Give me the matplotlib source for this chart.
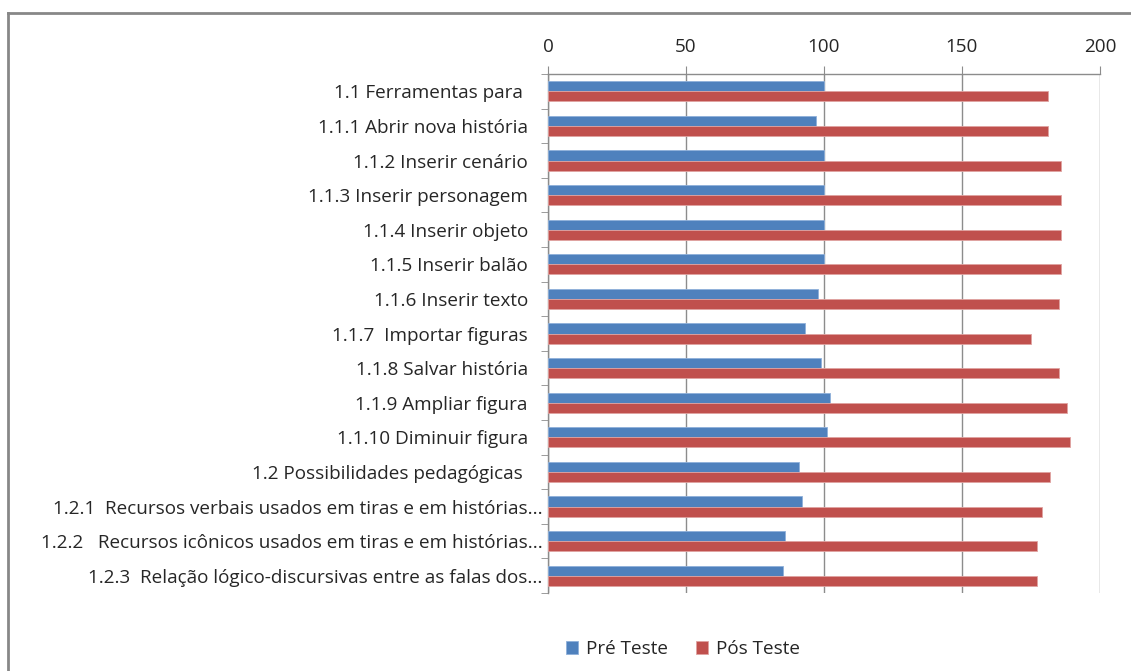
import matplotlib
matplotlib.use("Agg")
import matplotlib.pyplot as plt
from matplotlib.lines import Line2D
import numpy as np

categories = [
    "1.1 Ferramentas para ",
    "1.1.1 Abrir nova história",
    "1.1.2 Inserir cenário",
    "1.1.3 Inserir personagem",
    "1.1.4 Inserir objeto",
    "1.1.5 Inserir balão",
    "1.1.6 Inserir texto",
    "1.1.7  Importar figuras",
    "1.1.8 Salvar história",
    "1.1.9 Ampliar figura",
    "1.1.10 Diminuir figura",
    "1.2 Possibilidades pedagógicas ",
    "1.2.1  Recursos verbais usados em tiras e em histórias...",
    "1.2.2   Recursos icônicos usados em tiras e em histórias...",
    "1.2.3  Relação lógico-discursivas entre as falas dos...",
]
pre_teste = [100, 97, 100, 100, 100, 100, 98, 93, 99, 102, 101, 91, 92, 86, 85]
pos_teste = [181, 181, 186, 186, 186, 186, 185, 175, 185, 188, 189, 182, 179, 177, 177]
series_names = ["Pré Teste", "Pós Teste"]
x_ticks = [0, 50, 100, 150, 200]

plt.rcParams['font.family'] = ['Open Sans', 'DejaVu Sans']
text_color = "#262626"
grid_color = "#8c8c8c"
fs = 13.6

W, H = 1131, 671
fig = plt.figure(figsize=(W / 100, H / 100), dpi=100)
ax = fig.add_axes([548 / W, 1 - 593 / H, (1100 - 548) / W, (593 - 74) / H])

y = np.arange(len(categories))
h = 0.29
ax.barh(y - h / 2, pre_teste, height=h, color="#4F81BD", edgecolor="#8fb0da", linewidth=0.6, label=series_names[0], zorder=3)
ax.barh(y + h / 2, pos_teste, height=h, color="#C0504D", edgecolor="#e0a3a1", linewidth=0.6, label=series_names[1], zorder=3)

ax.set_xlim(0, 200)
ax.set_ylim(len(categories) - 0.5, -0.5)
ax.xaxis.tick_top()
ax.set_xticks(x_ticks)
ax.set_xticklabels([str(v) for v in x_ticks], fontsize=fs, color=text_color)
ax.tick_params(axis="x", direction="out", length=6, color=grid_color, pad=7)
ax.grid(axis="x", color=grid_color, linewidth=1, zorder=0)

# labels that are not truncated end a little further from the axis
shown = [c if c.endswith("...") else c + "   " for c in categories]
ax.set_yticks(y)
ax.set_yticklabels(shown, fontsize=fs, color=text_color)
ax.tick_params(axis="y", length=0, pad=4)
ax.set_yticks(np.arange(len(categories) + 1) - 0.5, minor=True)
ax.tick_params(axis="y", which="minor", direction="out", length=5, color=grid_color)

for s in ["bottom", "right"]:
    ax.spines[s].set_visible(False)
for s in ["top", "left"]:
    ax.spines[s].set_color(grid_color)
    ax.spines[s].set_linewidth(1)

leg = fig.legend(loc="center", bbox_to_anchor=(683 / W, 1 - 649 / H), ncol=2, frameon=False,
                 fontsize=fs, handlelength=0.65, handleheight=0.65, handletextpad=0.4,
                 columnspacing=1.5, labelcolor=text_color)

border = "#878787"
fig.add_artist(Line2D([8 / W, 1], [1 - 13 / H, 1 - 13 / H], color=border, linewidth=2, transform=fig.transFigure))
fig.add_artist(Line2D([8 / W, 8 / W], [0, 1 - 13 / H], color=border, linewidth=2, transform=fig.transFigure))

fig.savefig("out.png", dpi=100)
